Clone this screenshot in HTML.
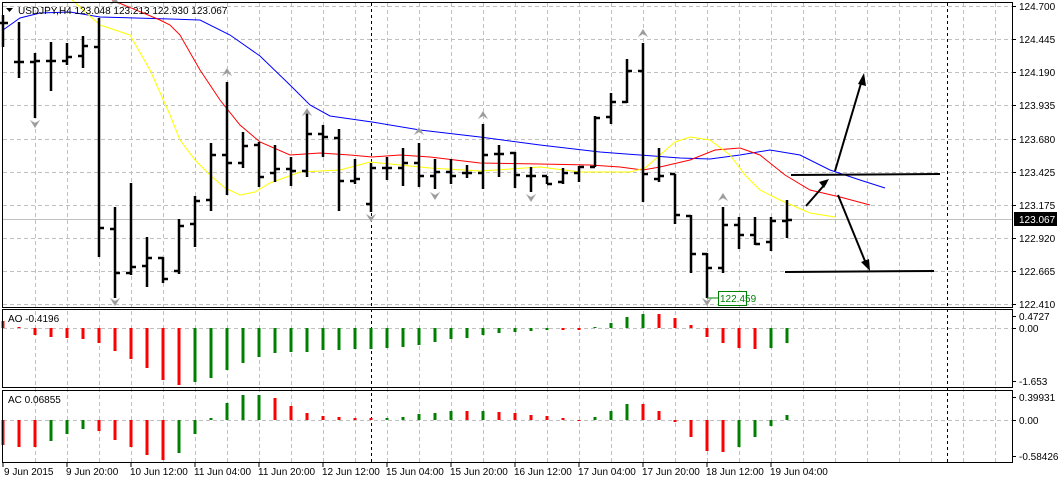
<!DOCTYPE html>
<html><head><meta charset="utf-8"><style>
html,body{margin:0;padding:0;background:#fff;}
svg{display:block;font-family:"Liberation Sans",sans-serif;font-size:10px;}
</style></head><body>
<svg width="1060" height="481" viewBox="0 0 1060 481" xmlns="http://www.w3.org/2000/svg">
<rect x="0" y="0" width="1060" height="481" fill="#fff"/>
<g stroke="#c0c0c0" stroke-dasharray="4,3" stroke-width="1">
<path d="M35.5 3V462M67.5 3V462M99.5 3V462M131.5 3V462M163.5 3V462M195.5 3V462M227.5 3V462M259.5 3V462M291.5 3V462M323.5 3V462M355.5 3V462M387.5 3V462M419.5 3V462M451.5 3V462M483.5 3V462M515.5 3V462M547.5 3V462M579.5 3V462M611.5 3V462M643.5 3V462M675.5 3V462M707.5 3V462M739.5 3V462M771.5 3V462M803.5 3V462M835.5 3V462M867.5 3V462M899.5 3V462M931.5 3V462M963.5 3V462M995.5 3V462"/>
<path d="M3 6.5H1012M3 39.5H1012M3 72.5H1012M3 105.5H1012M3 139.5H1012M3 172.5H1012M3 205.5H1012M3 238.5H1012M3 271.5H1012M3 304.5H1012M3 328.5H1012M3 420.5H1012"/>
</g>
<g stroke="#000" stroke-dasharray="3,3" stroke-width="1">
<path d="M371.5 3V462M947.5 3V462"/>
</g>
<path d="M3 219.5H1012" stroke="#c0c0c0" stroke-width="1"/>
<polyline fill="none" stroke="#0000ff" stroke-width="1" points="3,30 20,18 40,13 70,12 100,17 170,19 200,20 230,35 260,56 290,85 310,105 330,116 372,122 420,130 480,137 540,145 600,152 640,155 680,158 710,159 740,155 770,150 800,155 830,170 860,180 885,188"/>
<polyline fill="none" stroke="#ff0000" stroke-width="1" points="112,0 160,20 170,25 180,35 200,70 220,100 240,125 260,142 290,155 320,153 350,155 372,157 400,155 430,157 480,163 540,164 590,165 620,167 643,170 660,167 690,160 715,150 740,148 760,155 785,175 810,190 840,197 870,205"/>
<polyline fill="none" stroke="#ffff00" stroke-width="1" points="72,0 100,25 130,35 150,70 170,115 180,140 195,160 210,175 225,188 240,195 255,192 270,183 300,172 340,170 370,162 400,165 430,168 480,171 540,167 580,172 630,172 645,168 660,155 675,142 690,137 710,140 730,155 745,175 760,190 780,200 810,213 835,217"/>
<path fill="none" stroke="#000" stroke-width="2.5" d="
M3 15V47M-2 23H3M3 23H8
M19 22V78M14 62H19M19 62H24
M35 53V118M30 62H35M35 61H40
M51 42V91M46 61H51M51 61H56
M67 43V65M62 61H67M67 57H72
M83 36V68M78 56H83M83 46H88
M99 18V257M94 47H99M99 228H104
M115 207V298M110 229H115M115 273H120
M131 183V275M126 273H131M131 267H136
M147 237V287M142 266H147M147 258H152
M163 257V283M158 258H163M163 279H168
M179 219V274M174 271H179M179 226H184
M195 196V247M190 224H195M195 201H200
M211 143V211M206 200H211M211 155H216
M227 82V195M222 155H227M227 163H232
M243 132V168M238 163H243M243 146H248
M259 142V187M254 145H259M259 177H264
M275 145V182M270 173H275M275 169H280
M291 157V186M286 169H291M291 171H296
M307 110V177M302 171H307M307 134H312
M323 125V157M318 134H323M323 137H328
M339 129V211M334 138H339M339 181H344
M355 159V184M350 181H355M355 179H360
M371 163V212M366 204H371M371 168H376
M387 157V180M382 168H387M387 168H392
M403 148V186M398 168H403M403 163H408
M419 143V187M414 163H419M419 176H424
M435 159V189M430 176H435M435 172H440
M451 159V184M446 172H451M451 176H456
M467 165V178M462 173H467M467 173H472
M483 124V189M478 173H483M483 155H488
M499 145V177M494 154H499M499 154H504
M515 152V188M510 153H515M515 175H520
M531 167V192M526 176H531M531 176H536
M547 176V184M542 176H547M547 184H552
M563 168V184M558 182H563M563 173H568
M579 166V182M574 173H579M579 167H584
M595 116V167M590 167H595M595 118H600
M611 93V124M606 117H611M611 102H616
M627 59V103M622 102H627M627 71H632
M643 43V202M638 71H643M643 174H648
M659 148V182M654 179H659M659 176H664
M675 174V224M670 174H675M675 215H680
M691 215V273M686 216H691M691 254H696
M707 253V298M702 254H707M707 268H712
M723 207V273M718 268H723M723 225H728
M739 217V249M734 225H739M739 235H744
M755 217V245M750 235H755M755 244H760
M771 217V251M766 242H771M771 221H776
M787 200V238M782 221H787M787 220H792"/>
<g fill="#9a9a9a" stroke="#d0d0d0" stroke-width="0.5">
<path d="M35 128l-5-8 5 3 5-3z"/>
<path d="M115 306l-5-8 5 3 5-3z"/>
<path d="M371 222l-5-8 5 3 5-3z"/>
<path d="M435 200l-5-8 5 3 5-3z"/>
<path d="M531 202l-5-8 5 3 5-3z"/>
<path d="M707 306l-5-8 5 3 5-3z"/>
<path d="M227 68l-5 8 5-3 5 3z"/>
<path d="M307 108l-5 8 5-3 5 3z"/>
<path d="M419 127l-5 8 5-3 5 3z"/>
<path d="M483 111l-5 8 5-3 5 3z"/>
<path d="M643 29l-5 8 5-3 5 3z"/>
<path d="M723 193l-5 8 5-3 5 3z"/>
<path d="M115 -3l-5 8 5-3 5 3z"/>
</g>
<g stroke="#000" stroke-width="2" fill="none">
<path d="M791 175L940 174"/>
<path d="M785 272L934 271"/>
<path d="M806 206L826 183"/>
<path d="M835 171L862 80"/>
<path d="M838 195L867 266"/>
</g>
<g fill="#000">
<path d="M829 179l-10 3 5 6z"/>
<path d="M864 73l-6 11 8 2z"/>
<path d="M870 271l-1-12-8 3z"/>
</g>
<path d="M707 298H718" stroke="#008000" stroke-width="1"/>
<rect x="718.5" y="291.5" width="28" height="14" fill="#fff" stroke="#008000"/>
<text x="720" y="302" fill="#008000">122.459</text>
<g stroke-width="3">
<path stroke="#ff0000" d="M3 328V321M19 328V327M35 328V335M51 328V337M67 328V338M83 328V339M99 328V343M115 328V351M131 328V359M147 328V368M163 328V380M179 328V385M563 328V330M579 328V330M659 328V314M675 328V318M691 328V325M707 328V337M723 328V343M739 328V348M755 328V349"/>
<path stroke="#008000" d="M195 328V382M211 328V378M227 328V370M243 328V363M259 328V357M275 328V353M291 328V352M307 328V352M323 328V350M339 328V350M355 328V349M371 328V349M387 328V348M403 328V347M419 328V345M435 328V342M451 328V339M467 328V338M483 328V335M499 328V333M515 328V332M531 328V331M547 328V330M595 328V327M611 328V323M627 328V317M643 328V314M771 328V348M787 328V343"/>
</g>
<g stroke-width="3">
<path stroke="#ff0000" d="M3 420V445M19 420V447M35 420V447M99 420V431M115 420V440M131 420V447M147 420V455M163 420V460M275 420V398M291 420V406M307 420V413M323 420V416M339 420V417M355 420V418M371 420V418M467 420V411M499 420V412M515 420V413M531 420V415M547 420V416M563 420V418M579 420V421M643 420V404M659 420V411M675 420V422M691 420V437M707 420V451M723 420V452"/>
<path stroke="#008000" d="M51 420V441M67 420V434M83 420V429M179 420V453M195 420V434M211 420V418M227 420V403M243 420V395M259 420V395M387 420V418M403 420V417M419 420V414M435 420V413M451 420V411M483 420V411M595 420V417M611 420V411M627 420V404M739 420V447M755 420V437M771 420V426M787 420V415"/>
</g>
<g fill="none" stroke="#000" stroke-width="1">
<rect x="2.5" y="2.5" width="1010" height="305"/>
<rect x="2.5" y="309.5" width="1010" height="78"/>
<rect x="2.5" y="390.5" width="1010" height="72"/>
</g>
<path d="M6 8h7l-3.5 4z" fill="#000"/>
<text x="18" y="14" fill="#000">USDJPY,H4  123.048 123.213 122.930 123.067</text>
<text x="8" y="322" fill="#000">AO -0.4196</text>
<text x="8" y="403" fill="#000">AC 0.06855</text>
<g fill="#000">
<path d="M1012 6.5h4M1012 39.5h4M1012 72.5h4M1012 105.5h4M1012 139.5h4M1012 172.5h4M1012 205.5h4M1012 238.5h4M1012 271.5h4M1012 304.5h4M1012 316.5h4M1012 328.5h4M1012 381.5h4M1012 397.5h4M1012 420.5h4M1012 456.5h4" stroke="#000"/>
<text x="1019" y="10">124.700</text>
<text x="1019" y="43">124.445</text>
<text x="1019" y="76">124.190</text>
<text x="1019" y="109">123.935</text>
<text x="1019" y="143">123.680</text>
<text x="1019" y="176">123.425</text>
<text x="1019" y="209">123.175</text>
<text x="1019" y="242">122.920</text>
<text x="1019" y="275">122.665</text>
<text x="1019" y="308">122.410</text>
<text x="1019" y="320">0.4727</text>
<text x="1019" y="332">0.00</text>
<text x="1019" y="385">-1.653</text>
<text x="1019" y="401">0.39931</text>
<text x="1019" y="424">0.00</text>
<text x="1019" y="460">-0.58426</text>
</g>
<rect x="1014" y="212" width="43" height="14" fill="#000"/>
<text x="1019" y="223" fill="#fff">123.067</text>
<path d="M3 463v4M67 463v4M131 463v4M195 463v4M259 463v4M323 463v4M387 463v4M451 463v4M515 463v4M579 463v4M643 463v4M707 463v4M771 463v4" stroke="#000"/>
<g fill="#000">
<text x="4" y="475">9 Jun 2015</text>
<text x="66" y="475">9 Jun 20:00</text>
<text x="130" y="475">10 Jun 12:00</text>
<text x="194" y="475">11 Jun 04:00</text>
<text x="258" y="475">11 Jun 20:00</text>
<text x="322" y="475">12 Jun 12:00</text>
<text x="386" y="475">15 Jun 04:00</text>
<text x="450" y="475">15 Jun 20:00</text>
<text x="514" y="475">16 Jun 12:00</text>
<text x="578" y="475">17 Jun 04:00</text>
<text x="642" y="475">17 Jun 20:00</text>
<text x="706" y="475">18 Jun 12:00</text>
<text x="770" y="475">19 Jun 04:00</text>
</g>
</svg>
</body></html>
